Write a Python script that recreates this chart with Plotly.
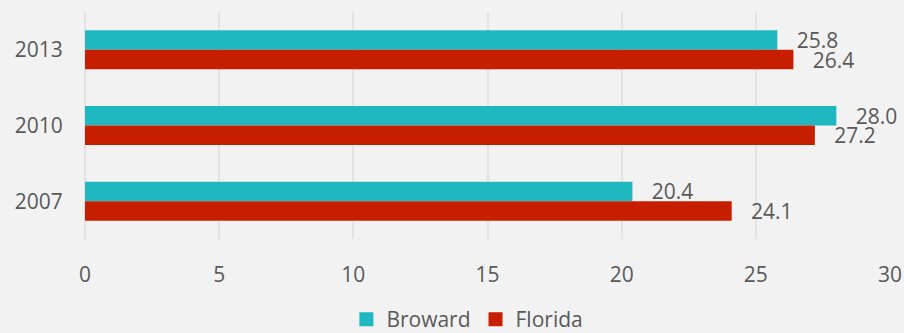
import plotly.graph_objects as go

years = ["2013", "2010", "2007"]
broward = [25.8, 28.0, 20.4]
florida = [26.4, 27.2, 24.1]
x_ticks = [0, 5, 10, 15, 20, 25, 30]

BG = "#F2F2F2"
TEXT = "#595959"
GRID = "#E3E3E3"
FONT = "Open Sans"
C_BROWARD = "#1FB8C1"
C_FLORIDA = "#C81E00"
pad = "\u00a0\u00a0\u00a0"

fig = go.Figure()
for name, vals, color in [("Broward", broward, C_BROWARD), ("Florida", florida, C_FLORIDA)]:
    fig.add_trace(go.Bar(
        name=name, y=years, x=vals, orientation="h",
        marker=dict(color=color, line=dict(width=0)),
        text=[f"{pad}{v:.1f}" for v in vals], textposition="outside",
        textfont=dict(family=FONT, size=21, color=TEXT),
        constraintext="none", cliponaxis=False, showlegend=False,
    ))

# legend entries with square swatches
for name, color in [("Broward", C_BROWARD), ("Florida", C_FLORIDA)]:
    fig.add_trace(go.Scatter(
        name=name, x=[None], y=[None], mode="markers",
        marker=dict(symbol="square", size=14, color=color),
        showlegend=True,
    ))

fig.update_layout(
    width=904, height=333,
    paper_bgcolor=BG, plot_bgcolor=BG,
    margin=dict(l=85, r=14, t=12, b=94, autoexpand=False),
    barmode="group", bargap=0.485, bargroupgap=0,
    font=dict(family=FONT, color=TEXT),
    showlegend=True,
    legend=dict(
        orientation="h", x=0.475, xanchor="center", y=-0.355, yanchor="middle",
        font=dict(family=FONT, size=21, color=TEXT),
        bgcolor="rgba(0,0,0,0)", itemwidth=30,
    ),
    xaxis=dict(
        range=[0, 30], tickvals=x_ticks, ticktext=[str(t) for t in x_ticks],
        showgrid=True, gridcolor=GRID, gridwidth=2,
        zeroline=True, zerolinecolor=GRID, zerolinewidth=2,
        showline=False, ticks="outside", ticklen=17, tickcolor=BG,
        tickfont=dict(family=FONT, size=21, color=TEXT),
    ),
    yaxis=dict(
        autorange="reversed", showgrid=False, zeroline=False, showline=False,
        ticks="outside", ticklen=17, tickcolor=BG,
        tickfont=dict(family=FONT, size=21, color=TEXT),
    ),
)

fig.write_html("out.html")
